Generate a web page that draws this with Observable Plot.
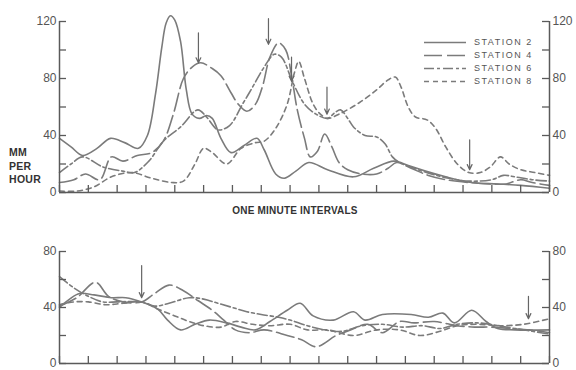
<!DOCTYPE html>
<html>
<head>
<meta charset="utf-8">
<script src="https://cdn.jsdelivr.net/npm/d3@7"></script>
<script src="https://cdn.jsdelivr.net/npm/@observablehq/plot@0.6"></script>
<style>
  body { margin: 0; background: #fff; }
  #wrap { position: relative; width: 576px; height: 370px; font-family: "Liberation Sans", Arial, sans-serif; color: #555; overflow: hidden; }
  #top, #bot { position: absolute; left: 0; }
  #top { top: 0; }
  #bot { top: 230px; }
  .units { position: absolute; left: 9px; top: 146px; font-size: 10.5px; font-weight: bold; line-height: 13.5px; color: #333; letter-spacing: 0.3px; }
  .xlab { position: absolute; left: 0; width: 590px; text-align: center; top: 205px; font-size: 10px; font-weight: bold; color: #333; letter-spacing: 0.2px; white-space: nowrap; }
  .legend { position: absolute; left: 422px; top: 36px; width: 130px; }
  .legend .row { position: relative; height: 13px; width: 130px; }
  .legend svg { position: absolute; left: 0; top: 0; }
  .legend span { position: absolute; left: 52px; top: 0; font-size: 9px; letter-spacing: 1.5px; color: #555; line-height: 13px; white-space: nowrap; }
</style>
</head>
<body>
<div id="wrap">
  <div id="top"></div>
  <div id="bot"></div>
  <div class="units">MM<br>PER<br>HOUR</div>
  <div class="xlab">ONE MINUTE INTERVALS</div>
  <div class="legend" id="legend"></div>
</div>
<script>
// ---- data ----
const stations = ["STATION 2", "STATION 4", "STATION 6", "STATION 8"];
const dashes = ["none", "18,5", "10,3,3,3", "5,4"];
const xTicks = [0,1,2,3,4,5,6,7,8,9,10,11,12,13,14,15,16,17];
const topYTicks = [0, 20, 40, 60, 80, 100, 120];
const topYLabels = [0, 40, 80, 120];
const botYTicks = [0, 20, 40, 60, 80];
const botYLabels = [0, 40, 80];

// top panel: [minute, mm per hour]
const station2Top = [[0,38],[0.4,32],[0.8,26],[1.3,31],[1.77,38],[2.26,35],[2.74,31],[3.05,40],[3.33,69],[3.55,102],[3.7,119],[3.85,124],[4.0,121],[4.2,106],[4.4,72],[4.6,55],[4.85,52],[5.1,54],[5.3,52],[5.6,38],[5.95,28],[6.4,33],[6.85,38],[7.1,30],[7.5,13],[7.8,10],[8.2,15],[8.65,21],[9.3,16],[10.2,11],[10.9,17],[11.6,22],[12.1,19],[12.7,15],[13.4,11],[14.3,7],[15.2,6],[16,5],[17,3]];
const station4Top = [[0,7],[0.5,9],[0.9,13],[1.4,9],[1.8,25],[2.2,22],[2.7,26],[3.2,28],[3.6,36],[3.95,55],[4.3,80],[4.6,88],[4.9,91],[5.3,87],[5.6,82],[5.95,70],[6.2,62],[6.5,57],[6.8,62],[7.05,75],[7.3,95],[7.6,105],[7.85,100],[8.05,82],[8.25,58],[8.5,38],[8.7,25],[8.95,29],[9.2,41],[9.45,32],[9.7,21],[10.0,16],[10.5,13],[11.0,13],[11.4,17],[11.7,21],[12.2,17],[12.8,12],[13.4,9],[14.2,7],[15,6],[15.5,6],[16,9],[16.4,7],[17,5]];
const station6Top = [[0,14],[0.4,20],[0.8,25],[1.5,18],[2.2,15],[2.6,14],[3.1,22],[3.6,36],[4.2,46],[4.8,58],[5.1,53],[5.5,44],[5.9,47],[6.35,62],[6.7,74],[7.1,88],[7.45,97],[7.7,95],[8.1,77],[8.5,62],[8.9,55],[9.3,52],[9.55,56],[9.75,58],[10.0,52],[10.2,46],[10.6,40],[11.0,39],[11.3,34],[11.55,25],[11.8,21],[12.3,17],[12.9,13],[13.5,10],[14.2,8],[15,9],[15.4,12],[15.8,11],[16.4,9],[17,8]];
const station8Top = [[0,1],[0.6,1],[1.2,4],[1.8,11],[2.5,14],[3.2,10],[3.9,7],[4.3,8],[4.7,20],[5.0,31],[5.3,28],[5.8,20],[6.3,31],[6.8,35],[7.1,36],[7.5,45],[7.9,62],[8.15,84],[8.3,92],[8.5,80],[8.8,62],[9.05,55],[9.3,52],[9.7,55],[10.4,63],[11.0,72],[11.4,79],[11.65,81],[11.85,74],[12.1,60],[12.35,53],[12.75,51],[13.05,45],[13.4,32],[13.8,20],[14.2,14],[14.6,14],[14.95,18],[15.3,25],[15.6,20],[16,16],[16.5,14],[17,12]];

// bottom panel
const station2Bot = [[0,40],[0.35,46],[0.7,50],[1.2,49],[1.8,47],[2.3,47],[2.85,44],[3.4,39],[3.75,31],[4.2,24],[4.7,28],[5.2,31],[5.8,29],[6.3,26],[6.8,24],[7.3,30],[7.9,38],[8.35,43],[8.8,34],[9.5,31],[10.2,37],[10.6,31],[11.2,35],[12.2,35],[12.8,33],[13.3,36],[13.7,29],[14.3,38],[14.8,30],[15.2,25],[15.8,24],[17,24]];
const station4Bot = [[0,41],[0.6,47],[1.25,58],[1.7,48],[2.2,44],[2.85,44],[3.3,50],[3.8,56],[4.3,52],[4.8,45],[5.3,38],[5.7,31],[6.1,24],[6.6,22],[7.1,24],[7.9,20],[8.4,17],[8.9,12],[9.6,20],[10.1,24],[10.7,28],[11.2,22],[11.8,30],[12.3,29],[13.0,30],[13.8,27],[14.4,26],[15,26],[15.6,25],[16.3,24],[17,22]];
const station6Bot = [[0,62],[0.5,54],[1.0,48],[1.5,44],[2.0,44],[2.85,44],[3.3,41],[3.8,43],[4.5,47],[5.0,46],[5.5,43],[6.0,40],[6.5,37],[7.0,35],[7.6,33],[8.0,31],[8.6,27],[9.2,24],[9.8,23],[10.5,27],[11.2,28],[11.9,26],[12.6,27],[13.2,25],[13.8,28],[14.5,29],[15.2,27],[15.8,25],[16.4,23],[17,21]];
const station8Bot = [[0,42],[0.5,44],[1.0,44],[1.6,42],[2.2,43],[2.85,44],[3.4,39],[4.0,34],[4.5,30],[5.0,27],[5.6,26],[6.1,30],[6.7,28],[7.3,27],[8.0,28],[8.6,24],[9.3,24],[10.2,20],[11.0,24],[11.8,24],[12.5,20],[13.2,23],[13.8,27],[14.5,28],[15.3,27],[16.1,28],[17,32]];

// arrows: minute, tail value, tip value
const arrowTopT = [4.82, 7.25, 8.05, 9.28, 14.23];
const arrowTopTail = [112, 122, 95, 74, 37];
const arrowTopTip = [91, 104, 78, 55, 16];
const arrowBotT = [2.85, 16.27];
const arrowBotTail = [70, 48];
const arrowBotTip = [47, 32];

// ---- build ----
const topSeries = [station2Top, station4Top, station6Top, station8Top];
const botSeries = [station2Bot, station4Bot, station6Bot, station8Bot];
const lineColor = "#7b7b7b";
const axisColor = "#5a5a5a";
const W = 576, ML = 59, MR = 27;
const frameW = W - ML - MR;

function panel(series, yTicks, yLabels, yMax, height, mt, mb, arrT, arrTail, arrTip) {
  const frameH = height - mt - mb;
  const rows = (s) => s.map(([t, v]) => ({t, v}));
  const arrows = arrT.map((t, i) => ({t, tail: arrTail[i], tip: arrTip[i]}));
  return Plot.plot({
    width: W, height, marginLeft: ML, marginRight: MR, marginTop: mt, marginBottom: mb,
    x: {domain: [0, 17], axis: null},
    y: {domain: [0, yMax], axis: null},
    style: {fontFamily: "Liberation Sans, Arial, sans-serif", fontSize: "12px", color: "#555", background: "transparent", overflow: "visible"},
    marks: [
      ...series.map((s, i) => Plot.line(rows(s), {x: "t", y: "v", stroke: lineColor, strokeWidth: 1.6, strokeDasharray: dashes[i], curve: "catmull-rom"})),
      Plot.arrow(arrows, {x1: "t", x2: "t", y1: "tail", y2: "tip", stroke: "#666", strokeWidth: 1.2, headLength: 7, headAngle: 50}),
      Plot.ruleX([0, 17], {stroke: axisColor, strokeWidth: 1.5}),
      Plot.ruleY([0], {stroke: axisColor, strokeWidth: 1.5}),
      Plot.ruleY(yTicks, {stroke: axisColor, strokeWidth: 1.3, insetRight: frameW - 7}),
      Plot.ruleY(yTicks, {stroke: axisColor, strokeWidth: 1.3, insetLeft: frameW - 7}),
      Plot.ruleX(xTicks, {stroke: axisColor, strokeWidth: 1.3, insetTop: frameH - 7}),
      Plot.axisY(yLabels, {anchor: "left", tickSize: 0, tickPadding: 3}),
      Plot.axisY(yLabels, {anchor: "right", tickSize: 0, tickPadding: 3})
    ]
  });
}

document.getElementById("top").appendChild(
  panel(topSeries, topYTicks, topYLabels, 120, 200, 21, 8, arrowTopT, arrowTopTail, arrowTopTip));
document.getElementById("bot").appendChild(
  panel(botSeries, botYTicks, botYLabels, 80, 140, 21, 7, arrowBotT, arrowBotTail, arrowBotTip));

// legend
const legend = document.getElementById("legend");
stations.forEach((name, i) => {
  const row = document.createElement("div");
  row.className = "row";
  row.innerHTML = `<svg width="46" height="13"><line x1="2" x2="44" y1="6.5" y2="6.5" stroke="${lineColor}" stroke-width="1.5" stroke-dasharray="${dashes[i]}"/></svg><span>${name}</span>`;
  legend.appendChild(row);
});
</script>
</body>
</html>
